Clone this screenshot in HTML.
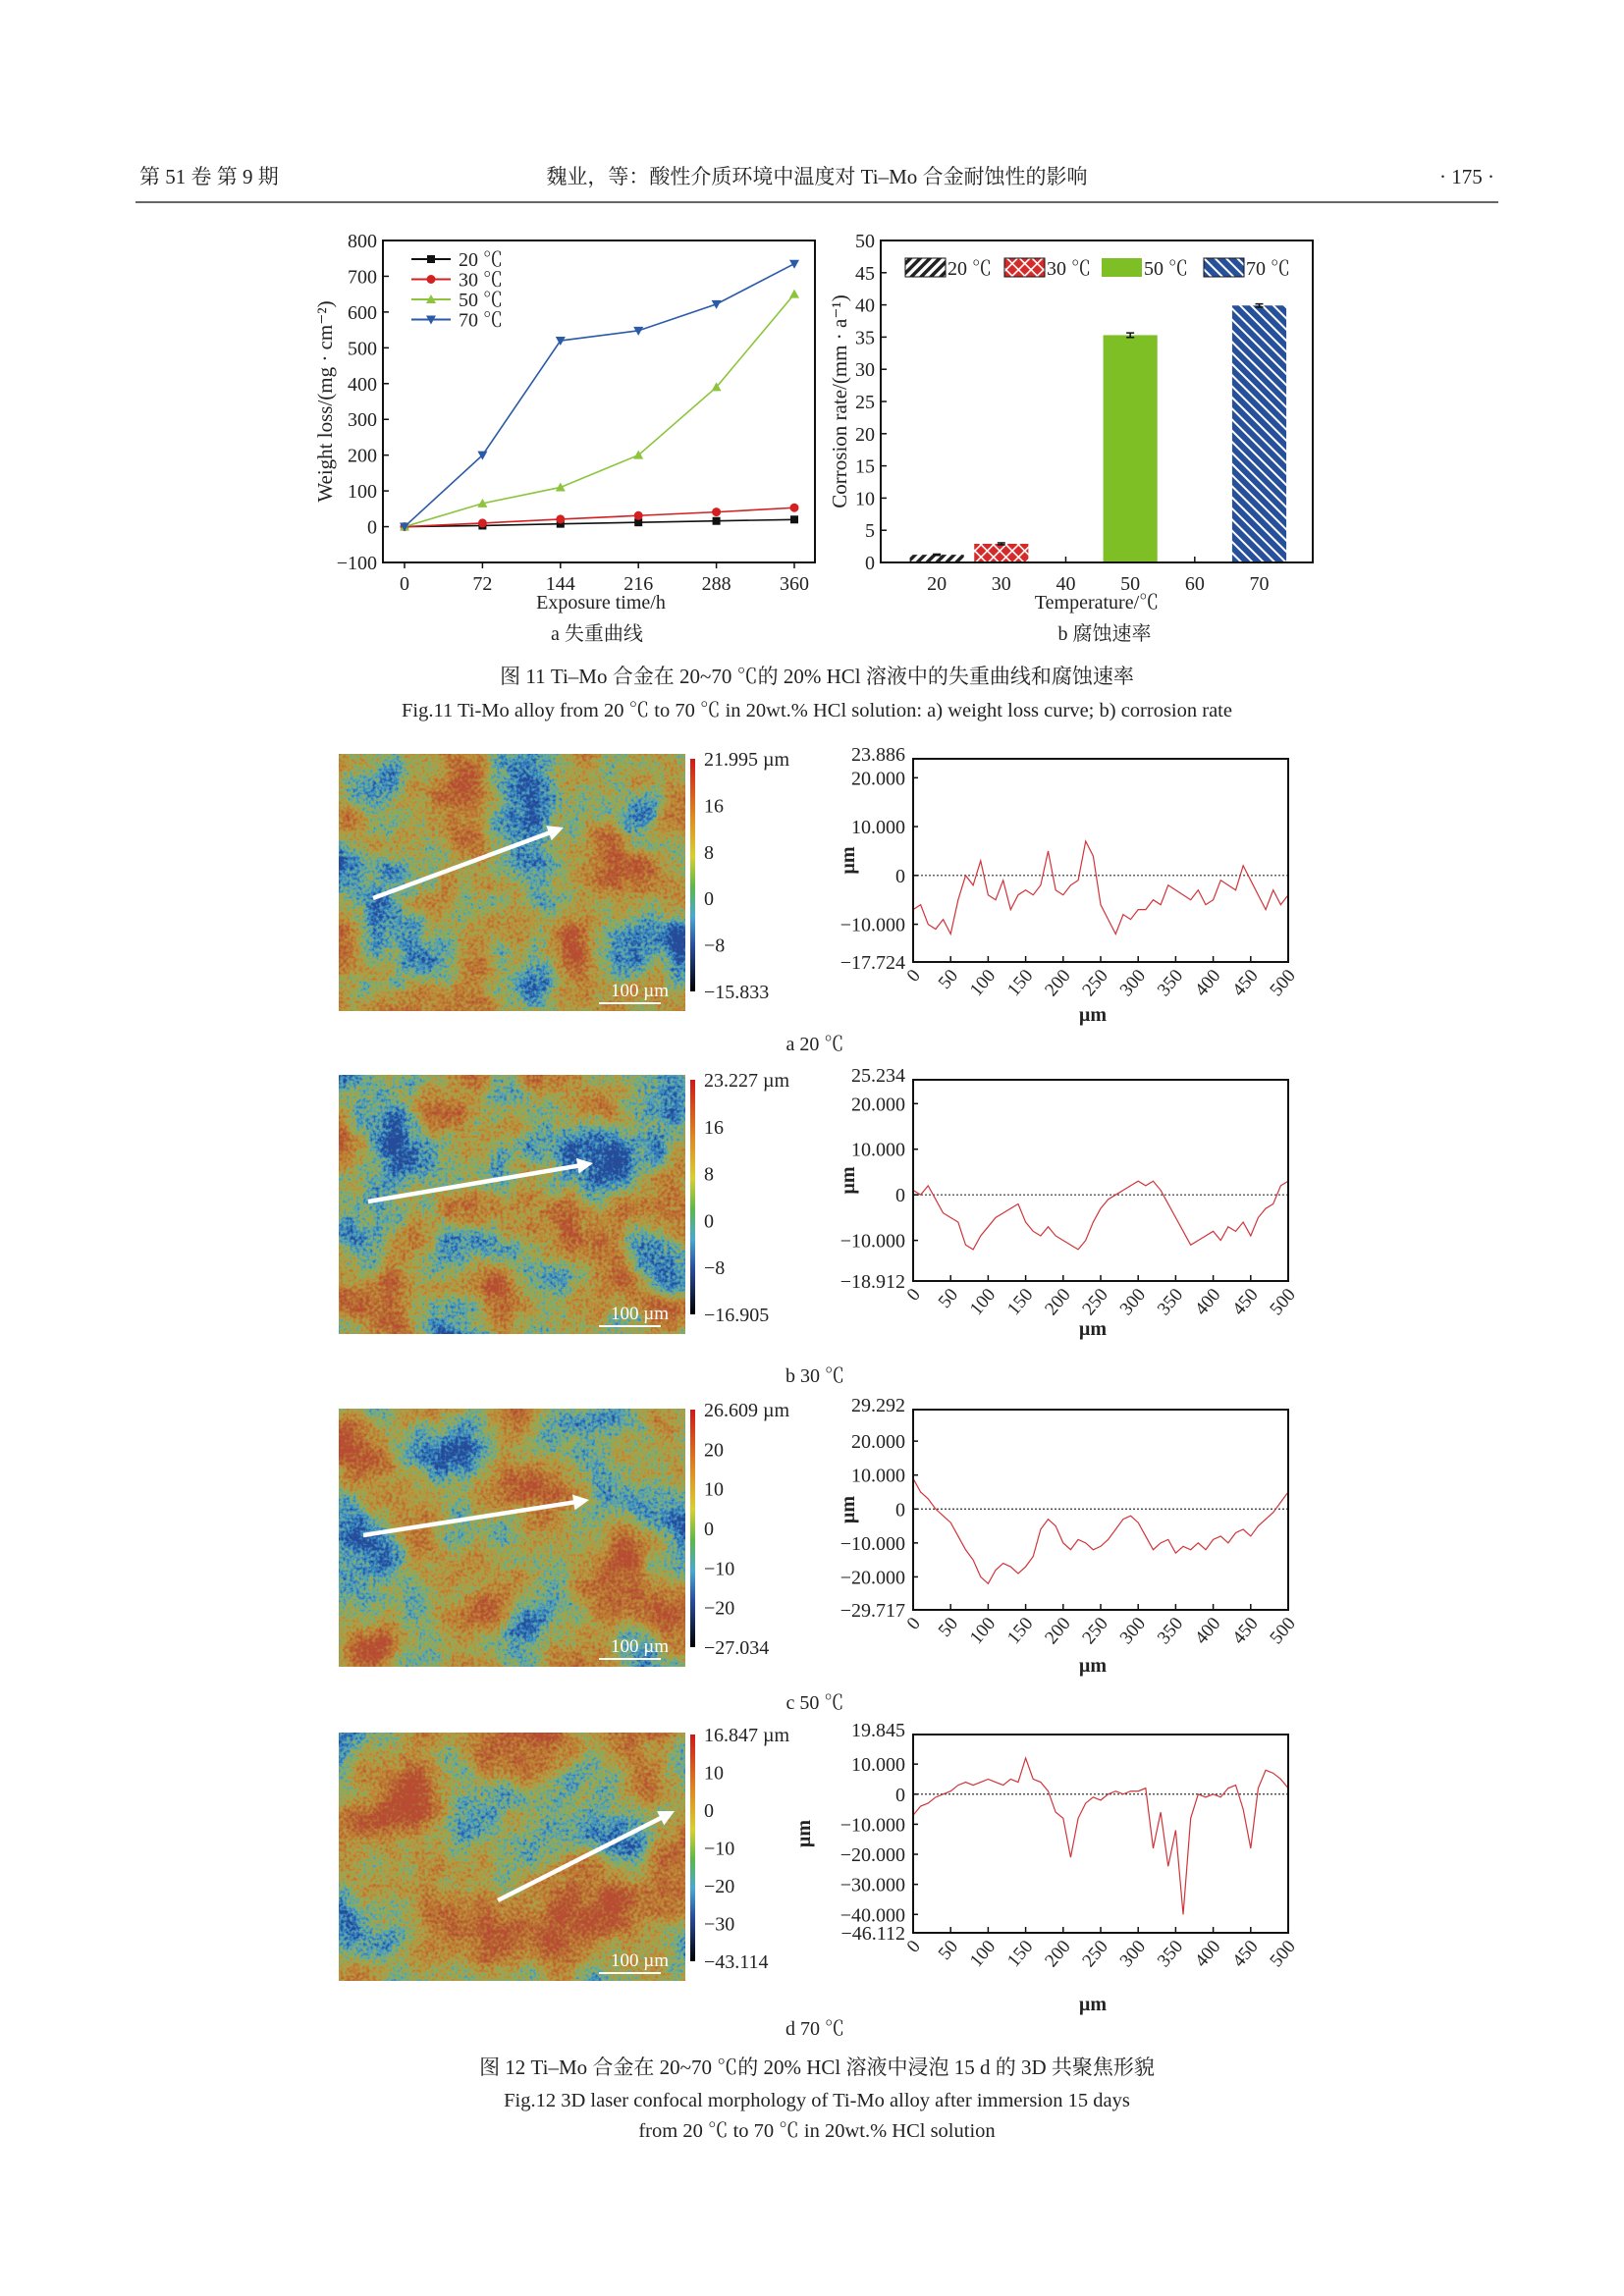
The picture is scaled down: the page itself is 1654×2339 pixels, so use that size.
<!DOCTYPE html>
<html><head><meta charset="utf-8">
<style>
html,body{margin:0;padding:0;background:#fff;}
svg{display:block;font-family:"Liberation Serif","Noto Serif CJK SC",serif;}
</style></head>
<body>
<svg id="pg" width="1654" height="2339" viewBox="0 0 1654 2339" xmlns="http://www.w3.org/2000/svg">
<defs id="defs">
<pattern id="p20" width="7" height="7" patternUnits="userSpaceOnUse" patternTransform="rotate(45)"><rect width="7" height="7" fill="#fff"/><rect width="3.5" height="7" fill="#222"/></pattern>
<pattern id="p30" width="9" height="9" patternUnits="userSpaceOnUse" patternTransform="rotate(45)"><rect width="9" height="9" fill="#d42a2a"/><rect width="1.6" height="9" fill="#fff"/><rect width="9" height="1.6" fill="#fff"/></pattern>
<pattern id="p70" width="8" height="8" patternUnits="userSpaceOnUse" patternTransform="rotate(-45)"><rect width="8" height="8" fill="#27509b"/><rect width="2" height="8" fill="#fff"/></pattern>
<linearGradient id="cbar" x1="0" y1="0" x2="0" y2="1">
<stop offset="0" stop-color="#d01818"/><stop offset="0.25" stop-color="#e08a20"/><stop offset="0.42" stop-color="#d8d030"/><stop offset="0.55" stop-color="#5cb84a"/><stop offset="0.68" stop-color="#4aa8d0"/><stop offset="0.8" stop-color="#2a4fa0"/><stop offset="1" stop-color="#000"/>
</linearGradient>
</defs>
<g id="root"></g>
</svg>
<script>
// ---------- Fig 11a data ----------
const hours = [0, 72, 144, 216, 288, 360];
const loss20 = [0, 3, 8, 12, 16, 20];
const loss30 = [0, 10, 21, 31, 41, 53];
const loss50 = [0, 65, 110, 200, 390, 650];
const loss70 = [0, 200, 520, 548, 622, 735];
const lossYTicks = [-100, 0, 100, 200, 300, 400, 500, 600, 700, 800];
// ---------- Fig 11b data ----------
const temps = [20, 30, 50, 70];
const rates = [1.2, 2.9, 35.3, 39.9];
const rateErr = [0.1, 0.15, 0.35, 0.25];
const tempTicks = [20, 30, 40, 50, 60, 70];
const rateTicks = [0, 5, 10, 15, 20, 25, 30, 35, 40, 45, 50];
// ---------- Fig 12 profile data (every 10 µm, 0..500) ----------
const profX = [0,10,20,30,40,50,60,70,80,90,100,110,120,130,140,150,160,170,180,190,200,210,220,230,240,250,260,270,280,290,300,310,320,330,340,350,360,370,380,390,400,410,420,430,440,450,460,470,480,490,500];
const profA = [-7,-6,-10,-11,-9,-12,-5,0,-2,3,-4,-5,-1,-7,-4,-3,-4,-2,5,-3,-4,-2,-1,7,4,-6,-9,-12,-8,-9,-7,-7,-5,-6,-2,-3,-4,-5,-3,-6,-5,-1,-2,-3,2,-1,-4,-7,-3,-6,-4];
const profB = [1,0,2,-1,-4,-5,-6,-11,-12,-9,-7,-5,-4,-3,-2,-6,-8,-9,-7,-9,-10,-11,-12,-10,-6,-3,-1,0,1,2,3,2,3,1,-2,-5,-8,-11,-10,-9,-8,-10,-7,-8,-6,-9,-5,-3,-2,2,3];
const profC = [9,5,3,0,-2,-4,-8,-12,-15,-20,-22,-18,-16,-17,-19,-17,-14,-6,-3,-5,-10,-12,-9,-10,-12,-11,-9,-6,-3,-2,-4,-8,-12,-10,-9,-13,-11,-12,-10,-12,-9,-8,-10,-7,-6,-8,-5,-3,-1,2,5];
const profD = [-7,-4,-3,-1,0,1,3,4,3,4,5,4,3,5,4,12,5,4,1,-6,-8,-21,-8,-3,-1,-2,0,1,0,1,1,2,-18,-6,-24,-12,-40,-8,0,-1,0,-1,2,3,-5,-18,2,8,7,5,2];
const profXTicks = [0,50,100,150,200,250,300,350,400,450,500];
const ticksA = [["23.886",23.886],["20.000",20],["10.000",10],["0",0],["−10.000",-10],["−17.724",-17.724]];
const ticksB = [["25.234",25.234],["20.000",20],["10.000",10],["0",0],["−10.000",-10],["−18.912",-18.912]];
const ticksC = [["29.292",29.292],["20.000",20],["10.000",10],["0",0],["−10.000",-10],["−20.000",-20],["−29.717",-29.717]];
const ticksD = [["19.845",19.845],["10.000",10],["0",0],["−10.000",-10],["−20.000",-20],["−30.000",-30],["−40.000",-40],["−46.112",-46.112]];
const cbarA = ["21.995 µm","16","8","0","−8","−15.833"];
const cbarB = ["23.227 µm","16","8","0","−8","−16.905"];
const cbarC = ["26.609 µm","20","10","0","−10","−20","−27.034"];
const cbarD = ["16.847 µm","10","0","−10","−20","−30","−43.114"];

const NS = "http://www.w3.org/2000/svg";
const root = document.getElementById('root');
const defs = document.getElementById('defs');
function mk(tag, attrs, parent, txt){
  const e = document.createElementNS(NS, tag);
  for (const k in attrs) e.setAttribute(k, attrs[k]);
  if (txt !== undefined) e.textContent = txt;
  (parent || root).appendChild(e);
  return e;
}
function text(x, y, s, size, anchor, name, extra, parent){
  const a = {x:x, y:y, 'font-size':size, 'text-anchor':anchor||'start', fill:'#222'};
  if (extra) for (const k in extra) a[k] = extra[k];
  const t = mk('text', a, parent, s);
  
  
  return t;
}

// ---------- texture filters ----------
function makeTex(id, seed, lf, shift){
  const f = mk('filter', {id:id, x:0, y:0, width:1, height:1, 'color-interpolation-filters':'sRGB'}, defs);
  mk('feTurbulence', {type:'fractalNoise', baseFrequency:lf, numOctaves:4, seed:seed, result:'lo0'}, f);
  mk('feColorMatrix', {in:'lo0', type:'matrix', values:'1 0 0 0 0 1 0 0 0 0 1 0 0 0 0 0 0 0 0 1', result:'lo'}, f);
  mk('feTurbulence', {type:'fractalNoise', baseFrequency:0.3, numOctaves:2, seed:seed+5, result:'hi0'}, f);
  mk('feColorMatrix', {in:'hi0', type:'matrix', values:'1 0 0 0 0 1 0 0 0 0 1 0 0 0 0 0 0 0 0 1', result:'hi'}, f);
  mk('feComposite', {in:'lo', in2:'hi', operator:'arithmetic', k1:0, k2:1, k3:0.45, k4:-0.225, result:'sum'}, f);
  const s = 1.6, c = -0.3 + shift;
  mk('feColorMatrix', {in:'sum', type:'matrix', values:`${s} 0 0 0 ${c} ${s} 0 0 0 ${c} ${s} 0 0 0 ${c} 0 0 0 0 1`}, f);
  const ct = mk('feComponentTransfer', {}, f);
  mk('feFuncR', {type:'table', tableValues:'0.15 0.2 0.35 0.55 0.72 0.75 0.72 0.72'}, ct);
  mk('feFuncG', {type:'table', tableValues:'0.3 0.5 0.65 0.68 0.6 0.5 0.4 0.3'}, ct);
  mk('feFuncB', {type:'table', tableValues:'0.6 0.75 0.7 0.35 0.25 0.2 0.2 0.2'}, ct);
}
makeTex('tex0', 3, 0.014, 0);
makeTex('tex1', 11, 0.014, -0.02);
makeTex('tex2', 27, 0.012, 0.02);
makeTex('tex3', 42, 0.011, 0.06);

// ---------- Header ----------
text(142, 187, "第 51 卷   第 9 期", 21, 'start', 'journal-volume');
text(832, 187, "魏业，等：酸性介质环境中温度对 Ti–Mo 合金耐蚀性的影响", 21, 'middle', 'running-title');
text(1522, 187, "· 175 ·", 21, 'end', 'page-number');
const rule = mk('line', {x1:138, y1:206, x2:1526, y2:206, stroke:'#333', 'stroke-width':1.5});



// ---------- Fig 11a ----------
const A = {l:390, r:830, t:245, b:573};
const ax = v => 412 + v * (397 / 360);
const ay = v => A.b - (v + 100) / 900 * (A.b - A.t);
const gA = mk('g', {});


const fa = mk('rect', {x:A.l, y:A.t, width:A.r-A.l, height:A.b-A.t, fill:'none', stroke:'#111', 'stroke-width':2}, gA);


lossYTicks.forEach(v => {
  mk('line', {x1:A.l, y1:ay(v), x2:A.l+6, y2:ay(v), stroke:'#111', 'stroke-width':1.5}, gA);
  text(A.l-6, ay(v)+7, String(v).replace('-', '−'), 20, 'end', 'y-tick-label', null, gA);
});
hours.forEach(v => {
  mk('line', {x1:ax(v), y1:A.b, x2:ax(v), y2:A.b+6, stroke:'#111', 'stroke-width':1.5}, gA);
  text(ax(v), A.b+28, String(v), 20, 'middle', 'x-tick-label', null, gA);
});
text(612, 620, "Exposure time/h", 20, 'middle', 'x-axis-title', null, gA);
text(0, 0, "Weight loss/(mg · cm⁻²)", 21, 'middle', 'y-axis-title', {transform:'translate(338,409) rotate(-90)'}, gA);
const seriesA = [[loss20,'#111','sq','20 ℃'],[loss30,'#d42020','ci','30 ℃'],[loss50,'#8cc43c','tu','50 ℃'],[loss70,'#2a5aa8','td','70 ℃']];
function marker(kind, x, y, c, g){
  let m;
  if (kind==='sq') m = mk('rect', {x:x-4, y:y-4, width:8, height:8, fill:c}, g);
  else if (kind==='ci') m = mk('circle', {cx:x, cy:y, r:4.5, fill:c}, g);
  else if (kind==='tu') m = mk('polygon', {points:`${x},${y-5} ${x-5},${y+4} ${x+5},${y+4}`, fill:c}, g);
  else m = mk('polygon', {points:`${x},${y+5} ${x-5},${y-4} ${x+5},${y-4}`, fill:c}, g);
  return m;
}
seriesA.forEach((s, i) => {
  const g = mk('g', {}, gA);
  
  
  const pts = hours.map((h, j) => ax(h) + ',' + ay(s[0][j])).join(' ');
  mk('polyline', {points:pts, fill:'none', stroke:s[1], 'stroke-width':1.6}, g);
  hours.forEach((h, j) => {
    const m = marker(s[2], ax(h), ay(s[0][j]), s[1], g);
    
    
  });
  const ly = 264 + i * 20.5;
  const lg = mk('g', {}, gA);
  
  
  mk('line', {x1:419, y1:ly, x2:459, y2:ly, stroke:s[1], 'stroke-width':2}, lg);
  marker(s[2], 439, ly, s[1], lg);
  text(467, ly+7, s[3], 20, 'start', 'legend-label', null, lg);
});

// ---------- Fig 11b ----------
const B = {l:897, r:1337, t:245, b:573};
const bx = v => B.l + (v - 11.3) / (78.3 - 11.3) * (B.r - B.l);
const by = v => B.b - v / 50 * (B.b - B.t);
const gB = mk('g', {});


rateTicks.forEach(v => {
  mk('line', {x1:B.l, y1:by(v), x2:B.l+6, y2:by(v), stroke:'#111', 'stroke-width':1.5}, gB);
  text(B.l-6, by(v)+7, String(v), 20, 'end', 'y-tick-label', null, gB);
});
tempTicks.forEach(v => {
  mk('line', {x1:bx(v), y1:B.b, x2:bx(v), y2:B.b-6, stroke:'#111', 'stroke-width':1.5}, gB);
  text(bx(v), B.b+28, String(v), 20, 'middle', 'x-tick-label', null, gB);
});
const fills = ['url(#p20)','url(#p30)','#7dbf24','url(#p70)'];
temps.forEach((t, i) => {
  const w = bx(t+4.2) - bx(t-4.2);
  const r = mk('rect', {x:bx(t-4.2), y:by(rates[i]), width:w, height:B.b-by(rates[i]), fill:fills[i]}, gB);
  
  
  const e = mk('g', {stroke:'#111', 'stroke-width':1.5}, gB);
  
  
  mk('line', {x1:bx(t), y1:by(rates[i]+rateErr[i]), x2:bx(t), y2:by(rates[i]-rateErr[i])}, e);
  mk('line', {x1:bx(t)-4, y1:by(rates[i]+rateErr[i]), x2:bx(t)+4, y2:by(rates[i]+rateErr[i])}, e);
  mk('line', {x1:bx(t)-4, y1:by(rates[i]-rateErr[i]), x2:bx(t)+4, y2:by(rates[i]-rateErr[i])}, e);
});
const fb = mk('rect', {x:B.l, y:B.t, width:B.r-B.l, height:B.b-B.t, fill:'none', stroke:'#111', 'stroke-width':2}, gB);


const legX = [922, 1023, 1122, 1226];
temps.forEach((t, i) => {
  const lg = mk('g', {}, gB);
  
  
  mk('rect', {x:legX[i], y:263, width:41, height:19, fill:fills[i], stroke: i===2?'none':'#111', 'stroke-width':1}, lg);
  text(legX[i]+43, 280, t + " ℃", 20, 'start', 'legend-label', null, lg);
});
text(1117, 620, "Temperature/℃", 20, 'middle', 'x-axis-title', null, gB);
text(0, 0, "Corrosion rate/(mm · a⁻¹)", 21, 'middle', 'y-axis-title', {transform:'translate(862,409) rotate(-90)'}, gB);

text(608, 652, "a  失重曲线", 20, 'middle', 'subcaption-a');
text(1125, 652, "b  腐蚀速率", 20, 'middle', 'subcaption-b');
text(832, 696, "图 11    Ti–Mo 合金在 20~70  ℃的 20% HCl 溶液中的失重曲线和腐蚀速率", 21, 'middle', 'fig11-caption-cn');
text(832, 730, "Fig.11 Ti-Mo alloy from 20  ℃  to 70  ℃  in 20wt.% HCl solution: a) weight loss curve; b) corrosion rate", 20.5, 'middle', 'fig11-caption-en');

// ---------- Fig 12 rows ----------
const rows = [
  {img:[345,768,353,262], fr:[930,773,1312,980], data:profA, ticks:ticksA, cb:cbarA, arrow:[380,915,574,843], um:1040, cap:"a  20 ℃", capY:1070, tex:'tex0'},
  {img:[345,1095,353,264], fr:[930,1100,1312,1305], data:profB, ticks:ticksB, cb:cbarB, arrow:[375,1224,604,1185], um:1360, cap:"b  30 ℃", capY:1408, tex:'tex1'},
  {img:[345,1435,353,263], fr:[930,1436,1312,1640], data:profC, ticks:ticksC, cb:cbarC, arrow:[370,1564,600,1528], um:1703, cap:"c  50 ℃", capY:1741, tex:'tex2'},
  {img:[345,1765,353,253], fr:[930,1767,1312,1969], data:profD, ticks:ticksD, cb:cbarD, arrow:[507,1936,687,1845], um:2048, cap:"d  70 ℃", capY:2073, tex:'tex3'}
];
rows.forEach((R, ri) => {
  const g = mk('g', {});
  
  
  const [ix, iy, iw, ih] = R.img;
  const im = mk('rect', {x:ix, y:iy, width:iw, height:ih, fill:'#7a9', filter:'url(#'+R.tex+')'}, g);
  
  
  const [x1,y1,x2,y2] = R.arrow;
  const ang = Math.atan2(y2-y1, x2-x1);
  const ar = mk('g', {}, g);
  
  
  mk('line', {x1:x1, y1:y1, x2:x2-10*Math.cos(ang), y2:y2-10*Math.sin(ang), stroke:'#fff', 'stroke-width':4.5}, ar);
  const hx = x2, hy = y2, L = 16, W = 8;
  const bx0 = hx - L*Math.cos(ang), by0 = hy - L*Math.sin(ang);
  mk('polygon', {points:`${hx},${hy} ${bx0 - W*Math.sin(ang)},${by0 + W*Math.cos(ang)} ${bx0 + W*Math.sin(ang)},${by0 - W*Math.cos(ang)}`, fill:'#fff'}, ar);
  text(ix+iw-17, iy+ih-15, "100 µm", 19, 'end', 'scale-bar-label', {fill:'#fff'}, g);
  mk('line', {x1:ix+iw-88, y1:iy+ih-8, x2:ix+iw-25, y2:iy+ih-8, stroke:'#fff', 'stroke-width':2}, g);
  const cbT = R.fr[1], cbB = iy + ih - 20;
  const cb = mk('rect', {x:703, y:cbT, width:5, height:cbB-cbT, fill:'url(#cbar)'}, g);
  
  
  R.cb.forEach((s, k) => {
    const yy = cbT + k * (cbB - cbT) / (R.cb.length - 1);
    text(717, yy + 7, s, 20, 'start', 'colorbar-label', null, g);
  });
  const [pl, pt, pr, pb] = R.fr;
  const ymax = R.ticks[0][1], ymin = R.ticks[R.ticks.length-1][1];
  const px = v => pl + v / 500 * (pr - pl);
  const py = v => pb - (v - ymin) / (ymax - ymin) * (pb - pt);
  const pg = mk('g', {}, g);
  
  
  mk('line', {x1:pl, y1:py(0), x2:pr, y2:py(0), stroke:'#333', 'stroke-width':1.2, 'stroke-dasharray':'2,2'}, pg);
  const pts = profX.map((x, j) => px(x) + ',' + py(R.data[j])).join(' ');
  const pl1 = mk('polyline', {points:pts, fill:'none', stroke:'#d0343a', 'stroke-width':1.2}, pg);
  
  
  const fr = mk('rect', {x:pl, y:pt, width:pr-pl, height:pb-pt, fill:'none', stroke:'#111', 'stroke-width':2}, pg);
  
  
  R.ticks.forEach(([s, v], k) => {
    if (k > 0 && k < R.ticks.length - 1) mk('line', {x1:pl, y1:py(v), x2:pl+5, y2:py(v), stroke:'#111', 'stroke-width':1.5}, pg);
    text(pl-8, py(v) + (k===0 ? 2 : 7), s, 20, 'end', 'y-tick-label', null, pg);
  });
  profXTicks.forEach(v => {
    mk('line', {x1:px(v), y1:pb, x2:px(v), y2:pb-6, stroke:'#111', 'stroke-width':1.5}, pg);
    text(0, 0, String(v), 19, 'end', 'x-tick-label', {transform:`translate(${px(v)+8},${pb+14}) rotate(-50)`}, pg);
  });
  const ylx = ri === 3 ? pl-105 : pl-60;
  text(0, 0, "µm", 20, 'middle', 'y-axis-title', {transform:`translate(${ylx},${(pt+pb)/2}) rotate(-90)`, 'font-weight':'bold'}, pg);
  text((pl+pr)/2 - 8, R.um, "µm", 20, 'middle', 'x-axis-title', {'font-weight':'bold'}, pg);
  text(830, R.capY, R.cap, 20, 'middle', 'subcaption', null, g);
});

text(832, 2113, "图 12    Ti–Mo 合金在 20~70  ℃的 20% HCl 溶液中浸泡 15 d 的 3D 共聚焦形貌", 21, 'middle', 'fig12-caption-cn');
text(832, 2146, "Fig.12 3D laser confocal morphology of Ti-Mo alloy after immersion 15 days", 20.5, 'middle', 'fig12-caption-en-1');
text(832, 2177, "from 20  ℃  to 70  ℃  in 20wt.% HCl solution", 20.5, 'middle', 'fig12-caption-en-2');
</script>
</body></html>
